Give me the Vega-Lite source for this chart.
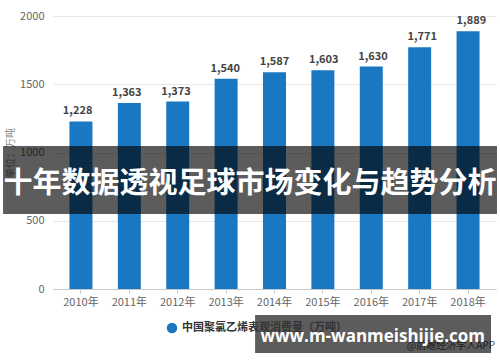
{
  "$schema": "https://vega.github.io/schema/vega-lite/v6.json",
  "width": 443,
  "height": 273,
  "autosize": "none",
  "padding": {"left": 50, "top": 16, "right": 7, "bottom": 73},
  "background": "white",
  "config": {
    "view": {"stroke": null},
    "font": "Noto Sans CJK SC"
  },
  "data": {"values": [
    {"year": "2010年", "value": 1228},
    {"year": "2011年", "value": 1363},
    {"year": "2012年", "value": 1373},
    {"year": "2013年", "value": 1540},
    {"year": "2014年", "value": 1587},
    {"year": "2015年", "value": 1603},
    {"year": "2016年", "value": 1630},
    {"year": "2017年", "value": 1771},
    {"year": "2018年", "value": 1889}
  ]},
  "resolve": {"scale": {"x": "independent"}},
  "layer": [
    {
      "mark": {"type": "bar", "color": "#1a78c2"},
      "encoding": {
        "x": {"field": "year", "type": "nominal", "sort": null,
              "scale": {"paddingInner": 0.525, "paddingOuter": 0.34, "range": [3, 446]},
              "axis": {"title": null, "labelAngle": 0, "labelColor": "#666", "labelFontSize": 11,
                       "domainColor": "#c8c8c8", "tickColor": "#c8c8c8", "tickSize": 4, "labelPadding": 3}},
        "y": {"field": "value", "type": "quantitative",
              "scale": {"domain": [0, 2000], "nice": false},
              "axis": {"values": [0, 500, 1000, 1500, 2000], "format": "d", "title": "单位：万吨", "titleColor": "#888",
                       "titleFontSize": 10, "titleFontWeight": "normal", "titlePadding": 4,
                       "labelColor": "#666", "labelFontSize": 11, "labelPadding": 6,
                       "domain": false, "ticks": false, "gridColor": "#e6e6e6"}},
        "color": {"datum": "中国聚氯乙烯表观消费量（万吨）", "type": "nominal",
                  "scale": {"range": ["#1a78c2"]},
                  "legend": {"title": null, "orient": "none", "legendX": 116, "legendY": 306,
                             "symbolType": "circle", "symbolSize": 110, "labelFontSize": 11,
                             "labelLimit": 400,
                             "labelColor": "#333", "labelFontWeight": "bold"}}
      }
    },
    {
      "mark": {"type": "text", "baseline": "bottom", "dy": -5, "fontSize": 11, "fontWeight": "bold", "color": "#444"},
      "encoding": {
        "x": {"field": "year", "type": "nominal", "sort": null,
              "scale": {"paddingInner": 0.525, "paddingOuter": 0.34, "range": [3, 446]}, "axis": null},
        "y": {"field": "value", "type": "quantitative", "scale": {"domain": [0, 2000], "nice": false}},
        "text": {"field": "value", "type": "quantitative", "format": ","}
      }
    },
    {
      "data": {"values": [{}]},
      "layer": [
        {
          "mark": {"type": "text", "align": "center", "baseline": "middle", "fontSize": 10, "color": "#555"},
          "encoding": {
            "x": {"datum": 0.905, "type": "quantitative", "scale": {"domain": [0, 1], "nice": false, "zero": false}, "axis": null},
            "y": {"datum": -418, "type": "quantitative", "scale": {"domain": [0, 2000], "nice": false}},
            "text": {"value": "@前瞻经济学人APP"}
          }
        },
        {
          "mark": {"type": "rect", "color": "#000", "opacity": 0.64},
          "encoding": {
            "x": {"datum": -0.106, "type": "quantitative", "scale": {"domain": [0, 1], "nice": false, "zero": false}, "axis": null},
            "x2": {"datum": 1.009},
            "y": {"datum": 1048, "type": "quantitative", "scale": {"domain": [0, 2000], "nice": false}},
            "y2": {"datum": 549}
          }
        },
        {
          "mark": {"type": "text", "align": "center", "baseline": "middle", "fontSize": 29, "fontWeight": "bold", "color": "white"},
          "encoding": {
            "x": {"datum": 0.4515, "type": "quantitative", "scale": {"domain": [0, 1], "nice": false, "zero": false}, "axis": null},
            "y": {"datum": 770, "type": "quantitative", "scale": {"domain": [0, 2000], "nice": false}},
            "text": {"value": "十年数据透视足球市场变化与趋势分析"}
          }
        },
        {
          "mark": {"type": "rect", "color": "#000", "opacity": 0.64},
          "encoding": {
            "x": {"datum": 0.463, "type": "quantitative", "scale": {"domain": [0, 1], "nice": false, "zero": false}, "axis": null},
            "x2": {"datum": 0.9955},
            "y": {"datum": -190, "type": "quantitative", "scale": {"domain": [0, 2000], "nice": false}},
            "y2": {"datum": -469}
          }
        },
        {
          "mark": {"type": "text", "align": "center", "baseline": "middle", "fontSize": 17, "fontWeight": "bold", "color": "white", "font": "Open Sans"},
          "encoding": {
            "x": {"datum": 0.7285, "type": "quantitative", "scale": {"domain": [0, 1], "nice": false, "zero": false}, "axis": null},
            "y": {"datum": -350, "type": "quantitative", "scale": {"domain": [0, 2000], "nice": false}},
            "text": {"value": "www.m-wanmeishijie.com"}
          }
        }
      ]
    }
  ]
}
